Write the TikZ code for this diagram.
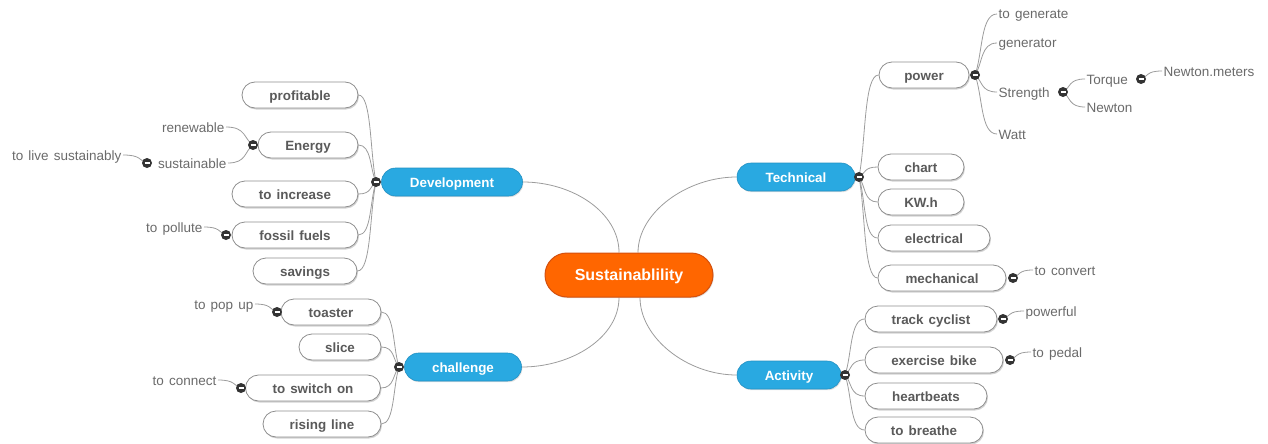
\documentclass[tikz,border=0pt]{standalone}
\usepackage{fontspec}
\setmainfont{Liberation Sans}[WordSpace={1.35}]
\usetikzlibrary{shadows,backgrounds,calc}
\definecolor{orfill}{HTML}{FF6600}
\definecolor{ordraw}{HTML}{D4500E}
\definecolor{blfill}{HTML}{29A9E1}
\definecolor{bldraw}{HTML}{2390C2}
\definecolor{boxborder}{HTML}{8E8E8E}
\definecolor{boxtext}{HTML}{5A5A5A}
\definecolor{plaintext}{HTML}{6A6A6A}
\definecolor{linecol}{HTML}{9C9C9C}
\definecolor{dotcol}{HTML}{333333}
\begin{document}
\begin{tikzpicture}[x=1pt,y=-1pt,
  box/.style={draw=boxborder, fill=white, rounded corners=13pt, minimum height=26pt,
    inner sep=0pt, font=\fontsize{13.4}{15}\selectfont\bfseries, text=boxtext, line width=0.8pt,
    text height=10pt, text depth=0pt,
    drop shadow={shadow xshift=1pt, shadow yshift=-1.5pt, fill=black!35}},
  topic/.style={draw=bldraw, fill=blfill, rounded corners=14pt, minimum height=28pt,
    inner sep=0pt, font=\fontsize{13.4}{15}\selectfont\bfseries, text=white, line width=0.6pt,
    text height=10pt, text depth=0pt,
    drop shadow={shadow xshift=0.8pt, shadow yshift=-1.2pt, fill=black!25}},
  central/.style={draw=ordraw, fill=orfill, rounded corners=22pt, minimum height=44pt,
    minimum width=168pt, inner sep=0pt, font=\fontsize{16}{18}\selectfont\bfseries, text=white, line width=1pt,
    text height=11.5pt, text depth=0pt,
    drop shadow={shadow xshift=0.8pt, shadow yshift=-1.2pt, fill=black!25}},
  plain/.style={font=\fontsize{13.5}{15}\selectfont, text=plaintext, inner sep=1.5pt,
    text height=10pt, text depth=0pt},
  dot/.style={circle, fill=dotcol, minimum size=10pt, inner sep=0pt,
    path picture={\draw[white, line width=1.3pt] ([xshift=-2.5pt]path picture bounding box.center) -- ([xshift=2.5pt]path picture bounding box.center);}},
  link/.style={draw=linecol, line width=0.8pt}
]
\useasboundingbox (0,0) rectangle (1268,444);

% central and main topics
\node[central] (S) at (629,275) {Sustainablility};
\node[topic, minimum width=141pt] (dev) at (452,182) {Development};
\node[topic, minimum width=118pt] (tech) at (796,177) {Technical};
\node[topic, minimum width=117pt] (chal) at (463,367) {challenge};
\node[topic, minimum width=104pt] (act) at (789,375) {Activity};

% Development branch
\node[box, minimum width=116pt] (prof) at (300,95) {profitable};
\node[box, minimum width=100pt] (energy) at (308,145) {Energy};
\node[box, minimum width=126pt] (inc) at (295,194) {to increase};
\node[box, minimum width=126pt] (foss) at (295,235) {fossil fuels};
\node[box, minimum width=104pt] (sav) at (305,271) {savings};
\node[plain, anchor=east] (renew) at (226,127) {renewable};
\node[plain, anchor=east] (sust) at (228,163) {sustainable};
\node[plain, anchor=east] (live) at (123,155) {to live sustainably};
\node[plain, anchor=east] (poll) at (204,227) {to pollute};

% Technical branch
\node[box, minimum width=90pt] (power) at (924,75) {power};
\node[box, minimum width=86pt] (chart) at (921,167) {chart};
\node[box, minimum width=86pt] (kwh) at (921,202) {KW.h};
\node[box, minimum width=112pt] (elec) at (934,238) {electrical};
\node[box, minimum width=128pt] (mech) at (942,278) {mechanical};
\node[plain, anchor=west] (conv) at (1033,270) {to convert};
\node[plain, anchor=west] (gen1) at (997,14) {to generate};
\node[plain, anchor=west] (gen2) at (997,43) {generator};
\node[plain, anchor=west] (stren) at (997,92) {Strength};
\node[plain, anchor=west] (watt) at (997,134) {Watt};
\node[plain, anchor=west] (torque) at (1085,79) {Torque};
\node[plain, anchor=west] (newton) at (1085,107) {Newton};
\node[plain, anchor=west] (nm) at (1162,71) {Newton.meters};

% Activity branch
\node[box, minimum width=132pt] (track) at (931,319) {track cyclist};
\node[box, minimum width=138pt] (bike) at (934,360) {exercise bike};
\node[box, minimum width=122pt] (heart) at (926,396) {heartbeats};
\node[box, minimum width=118pt] (breathe) at (924,430) {to breathe};
\node[plain, anchor=west] (powf) at (1024,311) {powerful};
\node[plain, anchor=west] (pedal) at (1031,352) {to pedal};

% challenge branch
\node[box, minimum width=100pt] (toaster) at (331,312) {toaster};
\node[box, minimum width=82pt] (slice) at (340,347) {slice};
\node[box, minimum width=135pt] (switch) at (313,388) {to switch on};
\node[box, minimum width=118pt] (rising) at (322,424) {rising line};
\node[plain, anchor=east] (popup) at (255,304) {to pop up};
\node[plain, anchor=east] (connect) at (218,380) {to connect};

% collapse dots
\node[dot] (devd) at (376,182) {};
\node[dot] (techd) at (859,177) {};
\node[dot] (chald) at (399,367) {};
\node[dot] (actd) at (845,375) {};
\node[dot] (energyd) at (253,145) {};
\node[dot] (sustd) at (147,163) {};
\node[dot] (fossd) at (226,235) {};
\node[dot] (powd) at (975,75) {};
\node[dot] (strd) at (1063,92) {};
\node[dot] (torqd) at (1141,79) {};
\node[dot] (mechd) at (1013,278) {};
\node[dot] (trackd) at (1003,319) {};
\node[dot] (biked) at (1010,360) {};
\node[dot] (toastd) at (277,312) {};
\node[dot] (switchd) at (241,388) {};

\begin{scope}[on background layer]
% central links
\draw[link] (dev.east) .. controls +(50,0) and +(0,-40) .. ([xshift=-10pt]S.north);
\draw[link] (tech.west) .. controls +(-50,0) and +(0,-40) .. ([xshift=9pt]S.north);
\draw[link] (chal.east) .. controls +(50,0) and +(0,40) .. ([xshift=-10pt]S.south);
\draw[link] (act.west) .. controls +(-50,0) and +(0,40) .. ([xshift=11pt]S.south);
% branch links: \c is the child anchor, \d the collapse dot
\foreach \d/\c in {devd/prof.east, devd/energy.east, devd/inc.east, devd/foss.east, devd/sav.east,
    energyd/renew.east, energyd/sust.east, sustd/live.east, fossd/poll.east,
    techd/power.west, techd/chart.west, techd/kwh.west, techd/elec.west, techd/mech.west,
    powd/gen1.west, powd/gen2.west, powd/stren.west, powd/watt.west,
    strd/torque.west, strd/newton.west, torqd/nm.west, mechd/conv.west,
    actd/track.west, actd/bike.west, actd/heart.west, actd/breathe.west,
    trackd/powf.west, biked/pedal.west,
    chald/toaster.east, chald/slice.east, chald/switch.east, chald/rising.east,
    toastd/popup.east, switchd/connect.east}
  \draw[link] (\c) .. controls ($(\c)!0.75!(\d.center |- \c)$) and ($(\d.center)!0.35!(\c)$) .. (\d.center);
\end{scope}
\end{tikzpicture}
\end{document}
